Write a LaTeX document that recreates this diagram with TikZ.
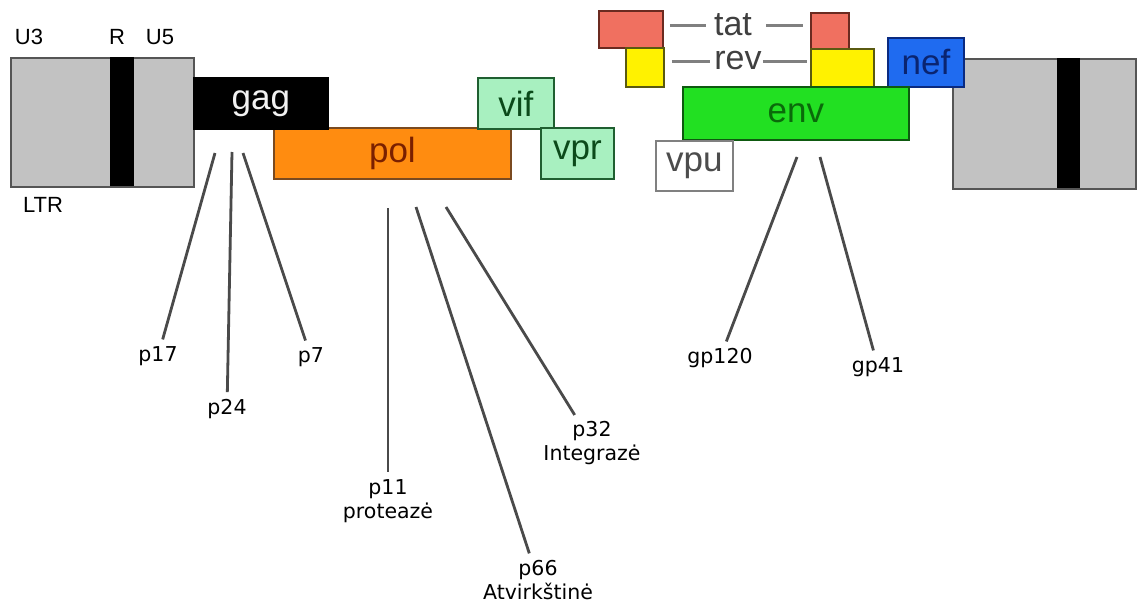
\documentclass[tikz,border=0pt]{standalone}
\usepackage{fontspec}
\setmainfont{Liberation Sans}
\newfontfamily\labfont{DejaVu Sans}
\definecolor{ltrF}{HTML}{C2C2C2}
\definecolor{ltrB}{HTML}{555555}
\definecolor{polF}{HTML}{FF8C10}
\definecolor{polB}{HTML}{7A4A20}
\definecolor{polT}{HTML}{7A2000}
\definecolor{vifF}{HTML}{A8F0C0}
\definecolor{vifB}{HTML}{1F5F30}
\definecolor{vifT}{HTML}{0B4A1A}
\definecolor{tatF}{HTML}{F07060}
\definecolor{tatB}{HTML}{6B2A20}
\definecolor{revF}{HTML}{FFF200}
\definecolor{revB}{HTML}{5A5A10}
\definecolor{envF}{HTML}{22E022}
\definecolor{envB}{HTML}{0E5A10}
\definecolor{envT}{HTML}{0A6A0A}
\definecolor{nefF}{HTML}{1F6BF0}
\definecolor{nefB}{HTML}{0A2A80}
\definecolor{nefT}{HTML}{0A2470}
\definecolor{linkC}{HTML}{4A4A4A}
\begin{document}
\begin{tikzpicture}[x=1pt,y=-1pt,
  gene/.style={draw, line width=1.8pt, inner sep=0pt, anchor=north west,
    font=\fontsize{35}{35}\selectfont},
  ltrbox/.style={draw=ltrB, fill=ltrF, line width=1.8pt, inner sep=0pt, anchor=north west},
  small/.style={font=\fontsize{22}{22}\selectfont, inner sep=0pt},
  genetext/.style={font=\fontsize{34}{34}\selectfont, text=black!75, inner sep=0pt},
  lab/.style={font=\labfont\fontsize{20.5}{24}\selectfont, align=center, inner sep=1pt},
  pointer/.style={draw=linkC, line width=2.8pt, shorten >=6pt},
  genelink/.style={draw=gray, line width=3pt}
]
\useasboundingbox[fill=white] (0,0) rectangle (1138,605);

% LTRs
\node[ltrbox, minimum width=183pt, minimum height=129pt] (ltrL) at (10,57) {};
\fill[black] (110,57) rectangle (134,186);
\node[ltrbox, minimum width=183pt, minimum height=130pt] (ltrR) at (952,58) {};
\fill[black] (1057,58) rectangle (1080,188);

\node[small] (u3) at (29,37) {U3};
\node[small] (r) at (117,37) {R};
\node[small] (u5) at (160,37) {U5};
\node[small] (ltr) at (43,205) {LTR};

% genes
\node[gene, draw=polB, fill=polF, text=polT, minimum width=237pt, minimum height=51pt] (pol) at (273,127) {pol};
\node[gene, draw=black, fill=black, text=white!90!gray, minimum width=134pt, minimum height=51pt] (gag) at (193,77) {gag};
\node[gene, draw=vifB, fill=vifF, text=vifT, minimum width=76pt, minimum height=51pt] (vif) at (477,77) {vif};
\node[gene, draw=vifB, fill=vifF, text=vifT, minimum width=73pt, minimum height=51pt] (vpr) at (540,127) {vpr};

\node[gene, draw=tatB, fill=tatF, minimum width=64pt, minimum height=37pt] (tatL) at (598,10) {};
\node[gene, draw=revB, fill=revF, minimum width=38pt, minimum height=39pt] (revL) at (625,47) {};
\node[gene, draw=tatB, fill=tatF, minimum width=38pt, minimum height=36pt] (tatR) at (810,12) {};
\node[gene, draw=revB, fill=revF, minimum width=63pt, minimum height=38pt] (revR) at (810,48) {};
\node[gene, draw=nefB, fill=nefF, text=nefT, minimum width=76pt, minimum height=49pt] (nef) at (887,37) {nef};
\node[gene, draw=envB, fill=envF, text=envT, minimum width=226pt, minimum height=53pt] (env) at (682,86) {env};
\node[gene, draw=gray, fill=white, text=black!70, minimum width=77pt, minimum height=50pt] (vpu) at (655,140) {vpu};

\node[genetext] (tat) at (733,25) {tat};
\node[genetext] (rev) at (738,61) {rev};
\draw[genelink, shorten <=6pt, shorten >=8pt] (tatL.east |- tat) -- (tat.west);
\draw[genelink, shorten <=14pt, shorten >=7pt] (tat.east) -- (tat -| tatR.west);
\draw[genelink, shorten <=7pt, shorten >=4pt] (revL.east |- rev) -- (rev.west);
\draw[genelink, shorten <=1pt, shorten >=3pt] (rev.east) -- (rev -| revR.west);

% protein labels
\node[lab] (p17) at (158,356) {p17};
\node[lab] (p24) at (227,409) {p24};
\node[lab] (p7) at (311,357) {p7};
\node[lab] (p11) at (388,501) {p11\\proteazė};
\node[lab] (p66) at (538,580) {p66\\Atvirkštinė};
\node[lab] (p32) at (592,443) {p32\\Integrazė};
\node[lab] (gp120) at (720,358) {gp120};
\node[lab] (gp41) at (878,367) {gp41};

\coordinate (t17) at (215,153);
\coordinate (t24) at (232,152);
\coordinate (t7) at (243,153);
\coordinate (t11) at (388,208);
\coordinate (t66) at (416,207);
\coordinate (t32) at (446,207);
\coordinate (t120) at (797,157);
\coordinate (t41) at (820,157);

\draw[pointer] (t17) -- (p17);
\draw[pointer] (t24) -- (p24);
\draw[pointer] (t7) -- (p7);
\draw[pointer] (t11) -- (p11);
\draw[pointer] (t66) -- (p66);
\draw[pointer] (t32) -- (p32);
\draw[pointer] (t120) -- (gp120);
\draw[pointer] (t41) -- (gp41);
\end{tikzpicture}
\end{document}
